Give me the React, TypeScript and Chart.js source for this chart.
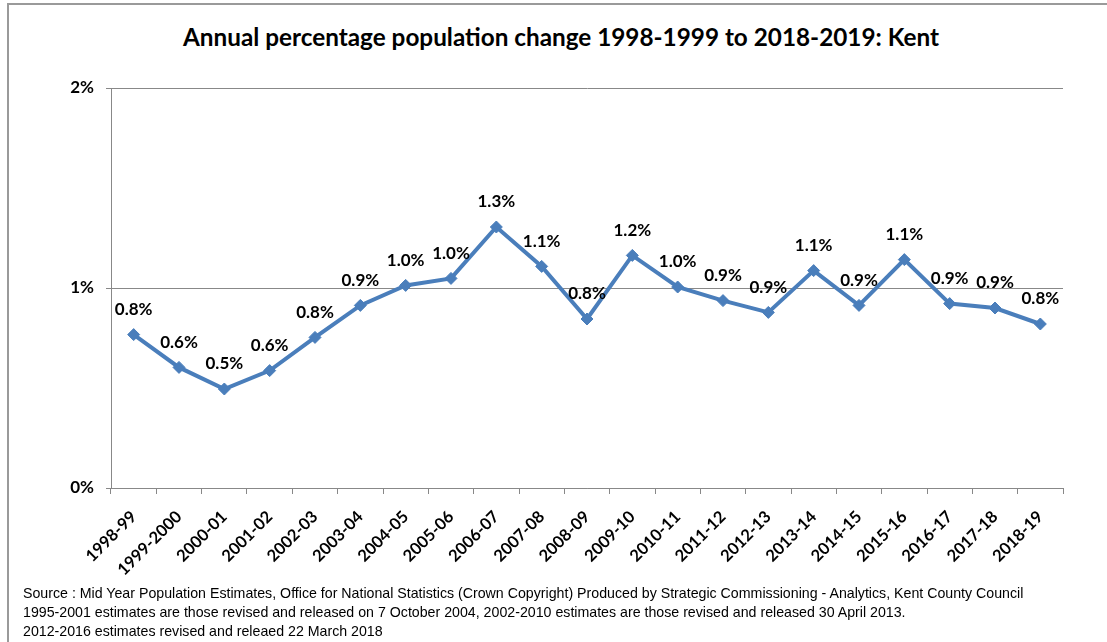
import React, { useEffect, useRef } from "react";
import { Chart, registerables } from "chart.js";

Chart.register(...registerables);

const chartTitle = "Annual percentage population change 1998-1999 to 2018-2019: Kent";

const categories = [
  "1998-99", "1999-2000", "2000-01", "2001-02", "2002-03", "2003-04", "2004-05",
  "2005-06", "2006-07", "2007-08", "2008-09", "2009-10", "2010-11", "2011-12",
  "2012-13", "2013-14", "2014-15", "2015-16", "2016-17", "2017-18", "2018-19",
];

const changePct = [
  0.767, 0.603, 0.495, 0.587, 0.753, 0.913, 1.013,
  1.048, 1.305, 1.108, 0.845, 1.163, 1.005, 0.937,
  0.878, 1.087, 0.913, 1.142, 0.922, 0.9, 0.82,
];

const yTickValues = [0, 1, 2];

const footnotes = [
  "Source : Mid Year Population Estimates, Office for National Statistics (Crown Copyright) Produced by Strategic Commissioning - Analytics, Kent County Council",
  "1995-2001 estimates are those revised and released on 7 October 2004, 2002-2010 estimates are those revised and released 30 April 2013.",
  "2012-2016 estimates revised and releaed 22 March 2018",
];

const LINE_COLOR = "#4A7EBB";
const GRID_COLOR = "#888888";
const FONT = "Lato, 'Open Sans', sans-serif";

const pointLabelPlugin = {
  id: "pointLabels",
  afterDatasetsDraw(chart: any) {
    const ctx = chart.ctx;
    const meta = chart.getDatasetMeta(0);
    ctx.save();
    ctx.font = `bold 17px ${FONT}`;
    ctx.fillStyle = "#000";
    ctx.textAlign = "center";
    ctx.textBaseline = "middle";
    meta.data.forEach((pt: any, i: number) => {
      ctx.fillText(changePct[i].toFixed(1) + "%", pt.x, pt.y - 25);
    });
    ctx.restore();
  },
};

export default function App() {
  const canvasRef = useRef<HTMLCanvasElement | null>(null);

  useEffect(() => {
    if (!canvasRef.current) return;
    const chart = new Chart(canvasRef.current, {
      type: "line",
      data: {
        labels: categories,
        datasets: [
          {
            data: changePct,
            borderColor: LINE_COLOR,
            backgroundColor: LINE_COLOR,
            borderWidth: 4,
            pointStyle: "rectRot",
            pointRadius: 6,
            pointBorderWidth: 1,
            pointBackgroundColor: LINE_COLOR,
            pointBorderColor: LINE_COLOR,
            tension: 0,
            fill: false,
          },
        ],
      },
      options: {
        responsive: false,
        animation: false,
        layout: { padding: { left: 0, right: 44, top: 88, bottom: 49 } },
        plugins: {
          legend: { display: false },
          title: { display: false },
          tooltip: { enabled: false },
        },
        scales: {
          x: {
            type: "category",
            offset: true,
            border: { display: true, color: GRID_COLOR, width: 1 },
            grid: {
              offset: true,
              drawOnChartArea: false,
              drawTicks: true,
              tickLength: 6,
              color: GRID_COLOR,
            },
            ticks: {
              autoSkip: false,
              maxRotation: 45,
              minRotation: 45,
              color: "#000",
              padding: 13,
              font: { family: FONT, size: 16.5, weight: "bold" },
            },
            afterFit(scale: any) {
              scale.height = 105;
            },
          },
          y: {
            min: 0,
            max: 2,
            afterBuildTicks(scale: any) {
              scale.ticks = yTickValues.map((v) => ({ value: v }));
            },
            border: { display: true, color: GRID_COLOR, width: 1 },
            grid: {
              color: GRID_COLOR,
              lineWidth: 1,
              drawTicks: true,
              tickLength: 5,
            },
            ticks: {
              color: "#000",
              padding: 12,
              font: { family: FONT, size: 17, weight: "bold" },
              callback: (v: any) => `${v}%`,
            },
            afterFit(scale: any) {
              scale.width = 111;
            },
          },
        },
      },
      plugins: [pointLabelPlugin],
    });
    return () => chart.destroy();
  }, []);

  return (
    <div
      style={{
        position: "absolute",
        left: 0,
        top: 0,
        width: 1107,
        height: 642,
        background: "#fff",
        overflow: "hidden",
      }}
    >
      <div
        style={{
          position: "absolute",
          left: 7,
          top: 3,
          width: 1120,
          height: 700,
          border: "2px solid #9a9a9a",
          boxSizing: "border-box",
        }}
      />
      <div
        style={{
          position: "absolute",
          left: 0,
          top: 21,
          width: 1122,
          textAlign: "center",
          fontFamily: FONT,
          fontWeight: "bold",
          fontSize: 24.3,
          lineHeight: "32px",
          color: "#000",
        }}
      >
        {chartTitle}
      </div>
      <canvas
        ref={canvasRef}
        width={1107}
        height={642}
        style={{ position: "absolute", left: 0, top: 0, width: 1107, height: 642 }}
      />
      {footnotes.map((t, i) => (
        <div
          key={i}
          style={{
            position: "absolute",
            left: 23,
            top: 584 + i * 19,
            fontFamily: "'Liberation Sans Narrow', sans-serif",
            fontSize: 14.2,
            lineHeight: "18px",
            color: "#000",
            whiteSpace: "nowrap",
          }}
        >
          {t}
        </div>
      ))}
    </div>
  );
}
